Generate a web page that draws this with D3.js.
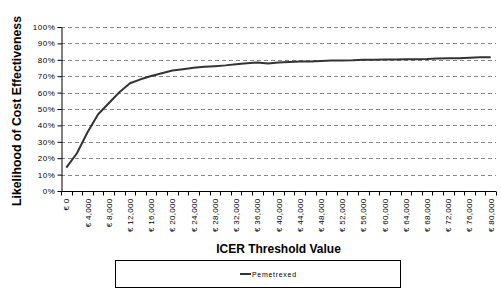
<!DOCTYPE html>
<html lang="en">
<head>
<meta charset="UTF-8">
<title>ICER acceptability curve</title>
<script src="https://d3js.org/d3.v7.min.js"></script>
<style>
    body { margin: 0; background: #fff; }
    .tick text { font-family: Arial, "Liberation Sans", sans-serif; font-size: 8px; fill: #000; letter-spacing: 0.6px; }
</style>
</head>
<body>
<div id="chart"></div>
<script>
    const thresholds = d3.range(0, 80001, 2000);
    const pemetrexed = [
        14.2, 23.0, 35.8, 46.8, 53.5, 60.2, 65.7, 68.1, 70.1, 71.8,
        73.5, 74.3, 75.2, 75.7, 76.1, 76.6, 77.3, 77.9, 78.3, 77.7,
        78.4, 78.7, 78.9, 79.0, 79.3, 79.5, 79.6, 79.7, 80.0, 80.1,
        80.2, 80.2, 80.3, 80.4, 80.5, 80.8, 80.9, 81.0, 81.3, 81.5, 81.6
    ];
    const yTicks = [0, 10, 20, 30, 40, 50, 60, 70, 80, 90, 100];
    const seriesName = "Pemetrexed";

    const width = 501;
    const height = 296;
    const marginTop = 27;
    const marginRight = 5;
    const marginBottom = 105;
    const marginLeft = 61;

    const svg = d3.select("#chart")
        .append("svg")
        .attr("width", width)
        .attr("height", height)
        .attr("viewBox", [0, 0, width, height]);

    const x = d3.scaleBand()
        .domain(thresholds)
        .range([marginLeft, width - marginRight]);

    const y = d3.scaleLinear()
        .domain([0, 100])
        .range([height - marginBottom, marginTop]);

    // gridlines
    svg.append("g")
        .selectAll("line")
        .data(yTicks.filter(d => d > 0))
        .join("line")
        .attr("x1", marginLeft)
        .attr("x2", width - marginRight)
        .attr("y1", d => Math.round(y(d)) + 0.5)
        .attr("y2", d => Math.round(y(d)) + 0.5)
        .attr("stroke", "#888")
        .attr("stroke-dasharray", "4,3");

    // y axis
    svg.append("g")
        .attr("transform", `translate(${marginLeft + 0.5},0)`)
        .call(d3.axisLeft(y).tickValues(yTicks).tickFormat(d => d + "%").tickSize(4).tickPadding(2).tickSizeOuter(0))
        .call(g => g.select(".domain").attr("stroke", "#000"))
        .call(g => g.selectAll(".tick line").attr("stroke", "#000"));

    // x axis: ticks between categories, labels every 4000
    const xAxis = svg.append("g")
        .attr("transform", `translate(0,${Math.round(y(0)) + 0.5})`);
    xAxis.append("line")
        .attr("x1", marginLeft)
        .attr("x2", width - marginRight)
        .attr("stroke", "#000");
    xAxis.selectAll(".xt")
        .data(thresholds.concat([null]))
        .join("line")
        .attr("x1", (d, i) => Math.round(marginLeft + i * x.step()) + 0.5)
        .attr("x2", (d, i) => Math.round(marginLeft + i * x.step()) + 0.5)
        .attr("y1", 0)
        .attr("y2", 4)
        .attr("stroke", "#000");
    xAxis.selectAll("text")
        .data(thresholds.filter(d => d % 4000 === 0))
        .join("text")
        .attr("transform", d => `translate(${x(d) + x.bandwidth() / 2 + 3},7) rotate(-90)`)
        .attr("text-anchor", "end")
        .attr("font-family", "Arial, 'Liberation Sans', sans-serif")
        .attr("font-size", 8)
        .attr("letter-spacing", 0.3)
        .text(d => "€ " + d3.format(",")(d));

    // line
    const line = d3.line()
        .x((d, i) => x(thresholds[i]) + x.bandwidth() / 2)
        .y(d => y(d));

    svg.append("path")
        .datum(pemetrexed)
        .attr("fill", "none")
        .attr("stroke", "#333")
        .attr("stroke-width", 2)
        .attr("stroke-linejoin", "round")
        .attr("d", line);

    // axis titles
    svg.append("text")
        .attr("x", (marginLeft + width - marginRight) / 2)
        .attr("y", 253)
        .attr("text-anchor", "middle")
        .attr("font-family", "Arial, 'Liberation Sans', sans-serif")
        .attr("font-weight", "bold")
        .attr("font-size", 12)
        .text("ICER Threshold Value");

    svg.append("text")
        .attr("transform", `translate(21,111) rotate(-90)`)
        .attr("text-anchor", "middle")
        .attr("font-family", "Arial, 'Liberation Sans', sans-serif")
        .attr("font-weight", "bold")
        .attr("font-size", 12.3)
        .text("Likelihood of Cost Effectiveness");

    // legend
    const legend = svg.append("g");
    legend.append("rect")
        .attr("x", 115.5)
        .attr("y", 260.5)
        .attr("width", 285)
        .attr("height", 27)
        .attr("fill", "#fff")
        .attr("stroke", "#000");
    legend.append("line")
        .attr("x1", 240)
        .attr("x2", 251)
        .attr("y1", 274)
        .attr("y2", 274)
        .attr("stroke", "#333")
        .attr("stroke-width", 2);
    legend.append("text")
        .attr("x", 252)
        .attr("y", 277)
        .attr("font-family", "Arial, 'Liberation Sans', sans-serif")
        .attr("font-size", 7)
        .attr("letter-spacing", 0.7)
        .text(seriesName);
</script>
</body>
</html>
